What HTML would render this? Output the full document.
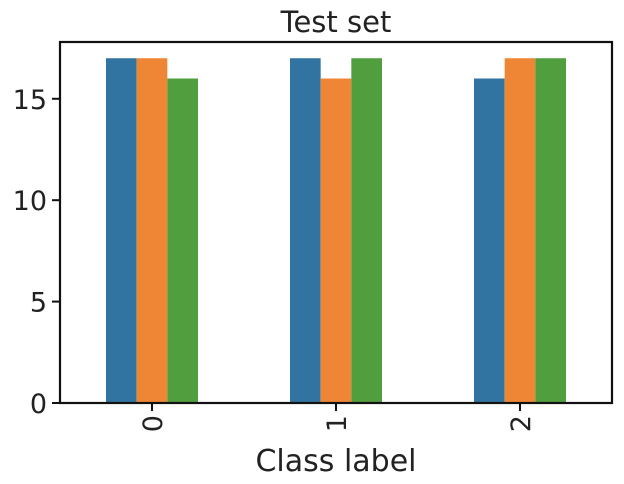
<!DOCTYPE html>
<html><head><meta charset="utf-8"><style>
body{margin:0;background:#fff;}
svg{display:block;font-family:"DejaVu Sans","Liberation Sans",sans-serif;}
</style></head><body>
<svg id="chart" width="624" height="484">
<text x="336" y="32" font-size="29" text-anchor="middle" fill="#222">Test set</text>
<text x="336" y="471" font-size="30" text-anchor="middle" fill="#222">Class label</text>
<g id="bars"></g>
<g id="axes"></g>
<rect x="60" y="42" width="552" height="361" fill="none" stroke="#111" stroke-width="2.2"/>
</svg>
<script>
const categories = ["0","1","2"];
const series1 = [17,17,16];
const series2 = [17,16,17];
const series3 = [16,17,17];
const yTicks = [0,5,10,15];
const colors = ["#3274a1","#ef8636","#519e3e"];
const NS="http://www.w3.org/2000/svg";
const L=60,R=612,T=42,B=403;
const y=v=>B-(B-T)*v/17.8;
const band=(R-L)/categories.length;
const xc=i=>L+band*(i+0.5);
const bw=band*0.5/3;
const bars=document.getElementById('bars'), axes=document.getElementById('axes');
[series1,series2,series3].forEach((s,k)=>{
  s.forEach((v,i)=>{
    const r=document.createElementNS(NS,'rect');
    r.setAttribute('x',xc(i)-1.5*bw+k*bw);
    r.setAttribute('y',y(v));
    r.setAttribute('width',bw);
    r.setAttribute('height',B-y(v));
    r.setAttribute('fill',colors[k]);
    
    
    bars.appendChild(r);
  });
});
yTicks.forEach(t=>{
  const l=document.createElementNS(NS,'line');
  l.setAttribute('x1',L-8);l.setAttribute('x2',L);l.setAttribute('y1',y(t));l.setAttribute('y2',y(t));
  l.setAttribute('stroke','#111');l.setAttribute('stroke-width','2');
  
  
  axes.appendChild(l);
  const tx=document.createElementNS(NS,'text');
  tx.setAttribute('x',L-13);tx.setAttribute('y',y(t)+10);tx.setAttribute('text-anchor','end');
  tx.setAttribute('font-size','27');tx.setAttribute('fill','#222');tx.textContent=t;
  
  
  axes.appendChild(tx);
});
categories.forEach((c,i)=>{
  const l=document.createElementNS(NS,'line');
  l.setAttribute('x1',xc(i));l.setAttribute('x2',xc(i));l.setAttribute('y1',B);l.setAttribute('y2',B+8);
  l.setAttribute('stroke','#111');l.setAttribute('stroke-width','2');
  
  
  axes.appendChild(l);
  const tx=document.createElementNS(NS,'text');
  tx.setAttribute('transform','translate('+(xc(i)+10)+','+(B+12)+') rotate(-90)');
  tx.setAttribute('text-anchor','end');
  tx.setAttribute('font-size','27');tx.setAttribute('fill','#222');tx.textContent=c;
  
  
  axes.appendChild(tx);
});
</script>
</body></html>
